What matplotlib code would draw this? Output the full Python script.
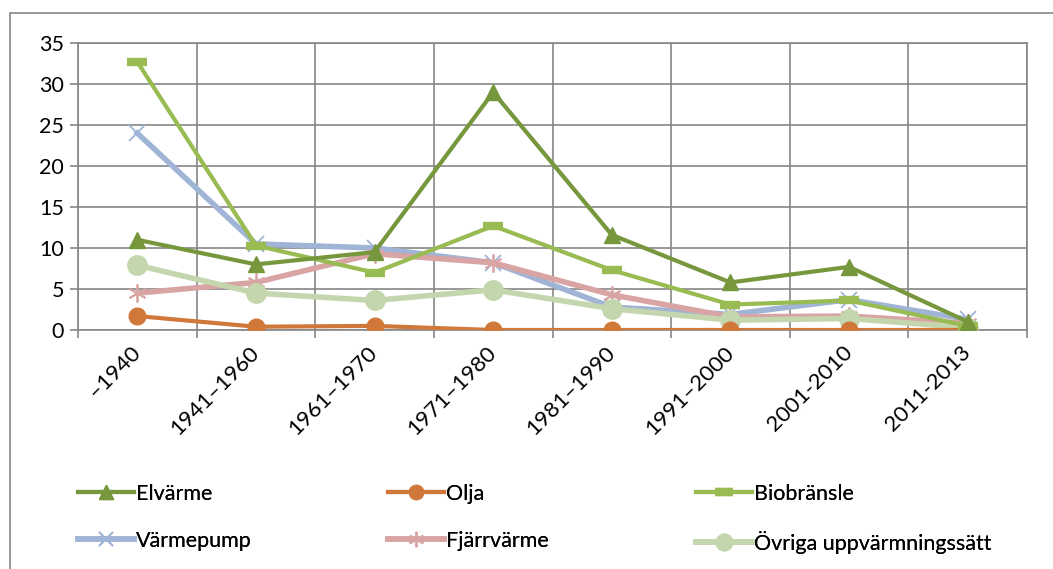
import matplotlib
matplotlib.use("Agg")
import matplotlib.pyplot as plt
from matplotlib.patches import Rectangle
import numpy as np

plt.rcParams['font.family'] = ['Lato', 'DejaVu Sans']

categories = ["\u20131940", "1941\u20131960", "1961\u20131970", "1971\u20131980",
              "1981\u20131990", "1991\u20132000", "2001-2010", "2011-2013"]
elvarme = [11.0, 8.0, 9.5, 29.0, 11.6, 5.8, 7.7, 1.0]
olja = [1.7, 0.4, 0.5, 0.0, 0.0, 0.0, 0.0, 0.0]
biobransle = [32.7, 10.3, 7.0, 12.7, 7.3, 3.1, 3.6, 0.5]
varmepump = [24.0, 10.5, 10.0, 8.2, 2.8, 1.9, 3.7, 1.3]
fjarrvarme = [4.5, 5.8, 9.3, 8.2, 4.3, 1.6, 1.7, 0.8]
ovriga = [7.9, 4.5, 3.6, 4.9, 2.6, 1.2, 1.4, 0.3]

W, H = 1053, 569
fig = plt.figure(figsize=(W/100, H/100), dpi=100)
ax = fig.add_axes([78/W, 1-330/H, (1027-78)/W, (330-43)/H])

x = np.arange(len(categories))
lw = 3.0
h = {}
h["el"], = ax.plot(x, elvarme, color="#77973d", lw=lw, marker="^", ms=12, label="Elvärme", zorder=5)
h["ol"], = ax.plot(x, olja, color="#d0783a", lw=lw, marker="o", ms=12, label="Olja", zorder=4)
h["bio"], = ax.plot(x, biobransle, color="#98bb52", lw=lw, marker="_", ms=15, mew=6, label="Biobränsle", zorder=4)
h["vp"], = ax.plot(x, varmepump, color="#a0b4d6", lw=lw+1, marker="x", ms=12, mew=1.3, label="Värmepump", zorder=3)
h["fv"], = ax.plot(x, fjarrvarme, color="#d9a4a4", lw=lw+1, marker=(6, 2, 0), ms=13, mew=1.3, label="Fjärrvärme", zorder=3)
h["ov"], = ax.plot(x, ovriga, color="#c4d6ad", lw=lw+1, marker="o", ms=14, label="Övriga uppvärmningssätt", zorder=3)

ax.set_xlim(-0.5, len(categories) - 0.5)
ax.set_ylim(0, 35)
ax.set_yticks(np.arange(0, 36, 5))
ax.set_xticks(x)
ax.set_xticklabels(categories, rotation=45, ha="right", va="center",
                   rotation_mode="anchor", fontsize=16)
ax.set_xticks(np.arange(-0.5, len(categories), 1), minor=True)
ax.tick_params(axis="x", which="major", length=0, pad=14)
ax.tick_params(axis="x", which="minor", length=6, color="#868686", width=1.2)
ax.tick_params(axis="y", length=6, color="#868686", width=1.2, labelsize=15.5, pad=4)
ax.grid(True, axis="x", which="minor", color="#868686", lw=1.2)
ax.grid(True, axis="y", which="major", color="#868686", lw=1.2)
for s in ax.spines.values():
    s.set_color("#868686")
    s.set_linewidth(1.2)
ax.set_axisbelow(True)

# three single-column legends placed at the reference column positions
cols = [["el", "vp"], ["ol", "fv"], ["bio", "ov"]]
col_x = [78, 388, 696]
for keys, cx in zip(cols, col_x):
    lg = fig.legend([h[k] for k in keys], [h[k].get_label() for k in keys],
                    loc="upper left", bbox_to_anchor=(cx/W, 1-484/H), ncol=1,
                    frameon=False, fontsize=15.5, handlelength=2.6, markerscale=0.85,
                    labelspacing=1.25, handletextpad=0.1, borderaxespad=0, borderpad=0)
    fig.add_artist(lg)

fig.patches.append(Rectangle((10/W, -0.05), 1.2, 1-13/H+0.05, transform=fig.transFigure,
                             fill=False, edgecolor="#868686", lw=1.2))

fig.savefig("out.png", dpi=100)
